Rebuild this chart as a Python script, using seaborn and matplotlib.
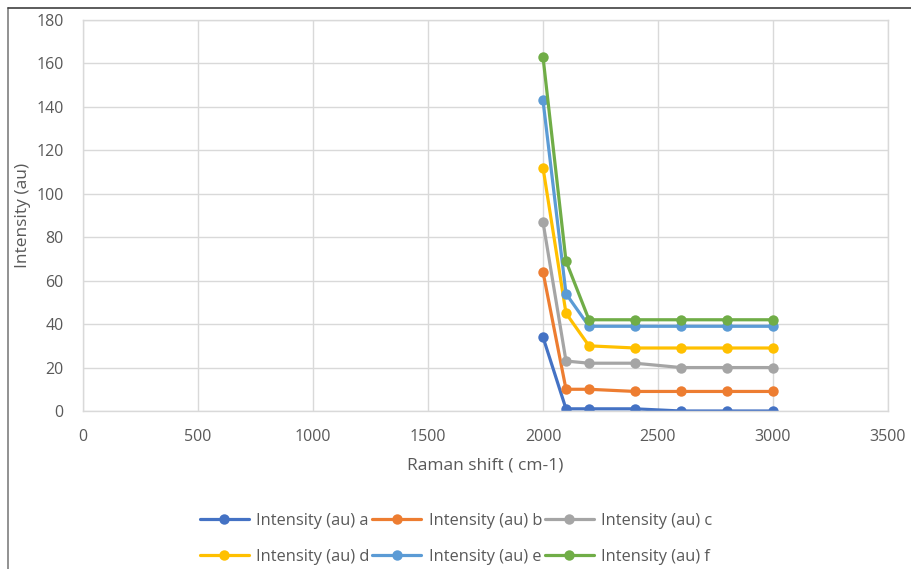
import matplotlib
matplotlib.use("Agg")
import matplotlib.pyplot as plt
from matplotlib.lines import Line2D
import seaborn as sns
import pandas as pd

# Raman shift positions (cm-1)
raman_shift = [2000, 2100, 2200, 2400, 2600, 2800, 3000]

# Intensity series (au)
intensity_a = [34, 1, 1, 1, 0, 0, 0]
intensity_b = [64, 10, 10, 9, 9, 9, 9]
intensity_c = [87, 23, 22, 22, 20, 20, 20]
intensity_d = [112, 45, 30, 29, 29, 29, 29]
intensity_e = [143, 54, 39, 39, 39, 39, 39]
intensity_f = [163, 69, 42, 42, 42, 42, 42]

series_names = ["Intensity (au) a", "Intensity (au) b", "Intensity (au) c",
                "Intensity (au) d", "Intensity (au) e", "Intensity (au) f"]
series_values = [intensity_a, intensity_b, intensity_c,
                 intensity_d, intensity_e, intensity_f]
colors = ["#4472C4", "#ED7D31", "#A5A5A5", "#FFC000", "#5B9BD5", "#70AD47"]

x_ticks = [0, 500, 1000, 1500, 2000, 2500, 3000, 3500]
y_ticks = [0, 20, 40, 60, 80, 100, 120, 140, 160, 180]

rows = []
for name, vals in zip(series_names, series_values):
    for x, y in zip(raman_shift, vals):
        rows.append({"shift": x, "intensity": y, "series": name})
df = pd.DataFrame(rows)

sns.set_style("white")
plt.rcParams["font.family"] = ["Open Sans", "DejaVu Sans"]
text_color = "#595959"
grid_color = "#D9D9D9"

fig = plt.figure(figsize=(9.12, 5.69), dpi=100)
ax = fig.add_axes([83 / 912, 1 - 411 / 569, (888 - 83) / 912, (411 - 20) / 569])

sns.lineplot(data=df, x="shift", y="intensity", hue="series",
             hue_order=series_names, palette=colors, marker="o",
             markersize=7.5, markeredgewidth=0, linewidth=2.3,
             legend=False, ax=ax, sort=False)

ax.set_xlim(0, 3500)
ax.set_ylim(0, 180)
ax.set_xticks(x_ticks)
ax.set_yticks(y_ticks)
ax.grid(True, color=grid_color, linewidth=1)
ax.set_axisbelow(True)
for sp in ax.spines.values():
    sp.set_color(grid_color)
    sp.set_linewidth(1)
ax.tick_params(length=0, labelsize=11.5, colors=text_color)
ax.tick_params(axis="x", pad=13)
ax.tick_params(axis="y", pad=14)
ax.set_xlabel("Raman shift ( cm-1)", fontsize=12.5, color=text_color, labelpad=9)
ax.set_ylabel("Intensity (au)", fontsize=12.5, color=text_color, labelpad=4)

# Legend in row-major order: a b c / d e f
handles = [Line2D([0], [0], color=c, linewidth=2.3, marker="o", markersize=7.5,
                  markeredgewidth=0) for c in colors]
order = [0, 3, 1, 4, 2, 5]
fig.legend([handles[i] for i in order], [series_names[i] for i in order],
           loc="center", bbox_to_anchor=(456 / 912, 1 - 539 / 569), ncol=3,
           frameon=False, fontsize=11.8, handlelength=3.0, handletextpad=0.45,
           columnspacing=0.15, labelspacing=1.2, labelcolor=text_color)

# Chart area frame (left and top edges)
fig.add_artist(Line2D([8 / 912, 8 / 912], [0, 1 - 8 / 569],
                      transform=fig.transFigure, color="#7F7F7F", linewidth=1.2))
fig.add_artist(Line2D([8 / 912, 1], [1 - 8 / 569, 1 - 8 / 569],
                      transform=fig.transFigure, color="#404040", linewidth=1.2))

fig.savefig("out.png", dpi=100)
